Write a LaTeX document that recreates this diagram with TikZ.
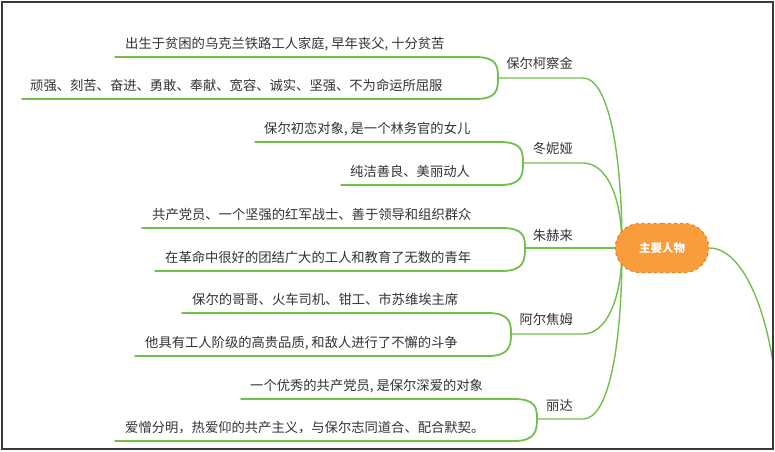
\documentclass[tikz,border=0pt]{standalone}
\usepackage{fontspec}
\setmainfont{Noto Sans CJK SC}
\definecolor{gline}{HTML}{72BF4E}
\definecolor{txt}{HTML}{333333}
\definecolor{orfill}{HTML}{F99D3C}
\definecolor{ordraw}{HTML}{E8852A}
\definecolor{frame}{HTML}{3A3A3A}
\tikzset{
  leafline/.style={draw=gline, line width=1.8pt, line cap=round},
  brline/.style={draw=gline, line width=1.4pt},
  leaftext/.style={anchor=base west, inner sep=0pt, text=txt, font=\fontsize{13.3pt}{15pt}\selectfont},
  brtext/.style={anchor=base east, inner sep=0pt, text=txt, font=\fontsize{13.3pt}{15pt}\selectfont},
  rootbox/.style={rounded rectangle, fill=orfill, draw=ordraw, dashed, line width=1.2pt,
    minimum width=100pt, minimum height=49pt, text=white, font=\fontsize{11.5pt}{13pt}\selectfont\bfseries}
}
\usetikzlibrary{shapes.misc}
\begin{document}
\begin{tikzpicture}[x=1pt,y=-1pt]
\useasboundingbox (0,0) rectangle (775,451);
\fill[white] (0,0) rectangle (775,451);
% leaf texts
\node[leaftext] (t1) at (125,48) {出生于贫困的乌克兰铁路工人家庭, 早年丧父, 十分贫苦};
\node[leaftext] (t2) at (30,90) {顽强、刻苦、奋进、勇敢、奉献、宽容、诚实、坚强、不为命运所屈服};
\node[leaftext] (t3) at (264,133) {保尔初恋对象, 是一个林务官的女儿};
\node[leaftext] (t4) at (350,176) {纯洁善良、美丽动人};
\node[leaftext] (t5) at (152,219) {共产党员、一个坚强的红军战士、善于领导和组织群众};
\node[leaftext] (t6) at (165,262) {在革命中很好的团结广大的工人和教育了无数的青年};
\node[leaftext] (t7) at (192,304) {保尔的哥哥、火车司机、钳工、市苏维埃主席};
\node[leaftext] (t8) at (145,347) {他具有工人阶级的高贵品质, 和敌人进行了不懈的斗争};
\node[leaftext] (t9) at (250,390) {一个优秀的共产党员, 是保尔深爱的对象};
\node[leaftext] (t10) at (125,432) {爱憎分明，热爱仰的共产主义，与保尔志同道合、配合默契。};
% branch labels
\node[brtext] (b1) at (573,68) {保尔柯察金};
\node[brtext] (b2) at (573,153) {冬妮娅};
\node[brtext] (b3) at (573,240) {朱赫来};
\node[brtext] (b4) at (573,324) {阿尔焦姆};
\node[brtext] (b5) at (573,410) {丽达};
% coordinates
\coordinate (k1) at (498,78);
\coordinate (k2) at (523,163);
\coordinate (k3) at (525,248);
\coordinate (k4) at (511,334);
\coordinate (k5) at (537,419);
\coordinate (hub) at (622,248);
% leaf brackets
\path[leafline] (115,57) -- (475,57) .. controls (497,57) and (498,66) .. (k1);
\path[leafline] (22,99) -- (475,99) .. controls (497,99) and (498,90) .. (k1);
\path[leafline] (255,142) -- (500,142) .. controls (522,142) and (523,151) .. (k2);
\path[leafline] (341,185) -- (500,185) .. controls (522,185) and (523,175) .. (k2);
\path[leafline] (142,228) -- (502,228) .. controls (524,228) and (525,237) .. (k3);
\path[leafline] (155,271) -- (502,271) .. controls (524,271) and (525,260) .. (k3);
\path[leafline] (182,313) -- (488,313) .. controls (510,313) and (511,323) .. (k4);
\path[leafline] (135,356) -- (488,356) .. controls (510,356) and (511,345) .. (k4);
\path[leafline] (241,399) -- (514,399) .. controls (536,399) and (537,408) .. (k5);
\path[leafline] (115,441) -- (514,441) .. controls (536,441) and (537,430) .. (k5);
% branches to hub
\path[brline] (k1) -- (583,78) .. controls (608,78) and (622,150) .. (hub);
\path[brline] (k2) -- (583,163) .. controls (606,163) and (622,195) .. (hub);
\path[brline] (k3) -- (hub);
\path[brline] (k4) -- (583,334) .. controls (606,334) and (622,300) .. (hub);
\path[brline] (k5) -- (583,419) .. controls (608,419) and (622,350) .. (hub);
% root
\node[rootbox] (root) at (662,248) {主要人物};
\coordinate (offr) at (777,400);
\begin{scope}
\clip (0,0) rectangle (772,451);
\path[brline] (root.east) .. controls (745,248) and (772,320) .. (offr);
\end{scope}
% frame
\draw[frame, line width=2pt] (2,2) rectangle (773,449);
\end{tikzpicture}
\end{document}
